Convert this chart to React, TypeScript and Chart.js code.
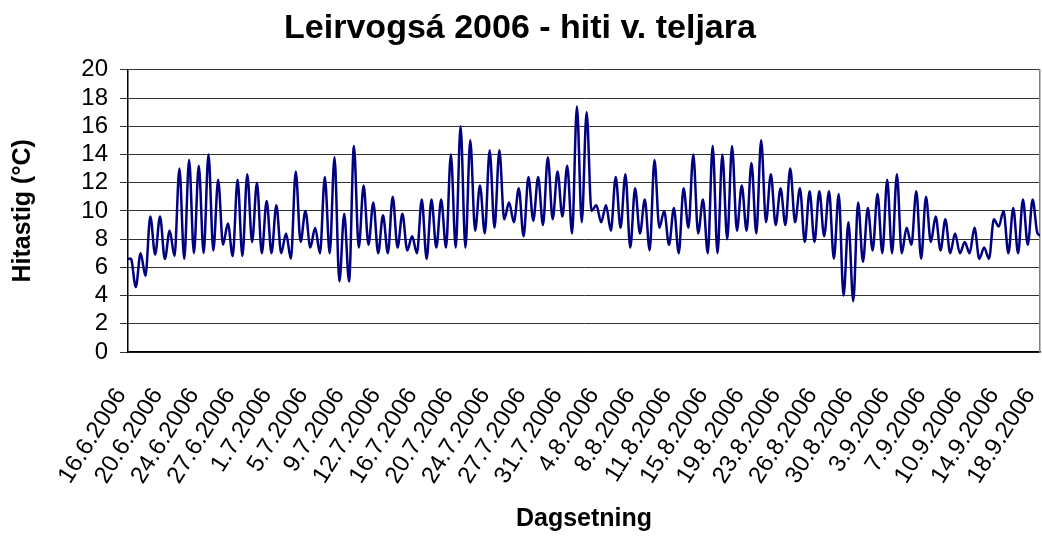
import React, { useEffect, useRef } from 'react';
import { Chart, registerables } from 'chart.js';

Chart.register(...registerables);

// X-axis tick labels (one every 90 hours from the first sample)
const tickLabels = [
  '16.6.2006', '20.6.2006', '24.6.2006', '27.6.2006', '1.7.2006', '5.7.2006',
  '9.7.2006', '12.7.2006', '16.7.2006', '20.7.2006', '24.7.2006', '27.7.2006',
  '31.7.2006', '4.8.2006', '8.8.2006', '11.8.2006', '15.8.2006', '19.8.2006',
  '23.8.2006', '26.8.2006', '30.8.2006', '3.9.2006', '7.9.2006', '10.9.2006',
  '14.9.2006', '18.9.2006',
];

// Water temperature (°C), one reading every 12 hours (afternoon max / night min)
const temperatures = [
  6.6,
  6.6, 4.6, 7.0, 5.4, 9.6, 6.9, 9.6, 6.6, 8.6, 6.8,
  13.0, 6.6, 13.6, 7.0, 13.2, 7.0, 14.0, 7.2, 12.2, 7.6,
  9.1, 6.8, 12.2, 6.8, 12.6, 7.8, 12.0, 7.0, 10.7, 7.0,
  10.4, 7.0, 8.4, 6.6, 12.8, 7.8, 10.0, 7.4, 8.8, 7.0,
  12.4, 7.0, 13.8, 5.0, 9.8, 5.0, 14.6, 7.4, 11.8, 7.6,
  10.6, 7.0, 9.7, 7.0, 11.0, 7.4, 9.8, 7.2, 8.2, 7.0,
  10.8, 6.6, 10.8, 7.4, 10.8, 7.4, 14.0, 7.4, 16.0, 7.4,
  15.0, 8.6, 11.8, 8.4, 14.3, 8.8, 14.3, 9.4, 10.6, 9.2,
  11.6, 8.2, 12.4, 9.3, 12.4, 9.0, 13.8, 9.4, 12.8, 9.6,
  13.2, 8.4, 17.4, 9.2, 17.0, 10.0, 10.4, 9.2, 10.4, 8.6,
  12.4, 8.8, 12.6, 7.4, 11.6, 8.4, 10.8, 7.2, 13.6, 8.8,
  10.0, 7.6, 10.2, 7.0, 11.6, 8.8, 14.0, 8.4, 10.8, 7.0,
  14.6, 7.0, 14.0, 8.0, 14.6, 8.6, 11.8, 8.6, 13.4, 8.4,
  15.0, 9.2, 12.6, 9.0, 11.6, 9.0, 13.0, 9.2, 11.6, 7.8,
  11.4, 7.8, 11.4, 8.2, 11.4, 6.6, 11.2, 4.0, 9.2, 3.6,
  10.6, 6.4, 10.2, 7.2, 11.2, 7.0, 12.2, 7.0, 12.6, 7.0,
  8.8, 7.6, 11.4, 6.6, 11.0, 7.8, 9.6, 7.2, 9.4, 7.0,
  8.4, 7.0, 7.8, 7.0, 8.8, 6.6, 7.4, 6.6, 9.4, 8.9,
  10.0, 7.0, 10.2, 7.0, 10.8, 7.6, 10.8, 8.4,
  8.2,
];

const firstSampleDay = -0.2; // days relative to first label
const sampleStepDays = 0.5;
const labelStepDays = 3.75;
const lastDay = 94.06;

const FONT = "'Liberation Sans', Arial, Helvetica, sans-serif";

export default function App() {
  const ref = useRef<HTMLCanvasElement>(null);

  useEffect(() => {
    const chart = new Chart(ref.current!, {
      type: 'line',
      data: {
        datasets: [
          {
            data: temperatures.map((v, i) => ({ x: firstSampleDay + i * sampleStepDays, y: v })),
            borderColor: '#000080',
            backgroundColor: '#000080',
            borderWidth: 2.5,
            pointRadius: 0,
            cubicInterpolationMode: 'monotone',
            fill: false,
          },
        ],
      },
      options: {
        animation: false,
        responsive: true,
        maintainAspectRatio: false,
        layout: { padding: { left: 0, right: 2, top: 0, bottom: 0 } },
        plugins: {
          legend: { display: false },
          tooltip: { enabled: false },
          title: {
            display: true,
            text: 'Leirvogsá 2006 - hiti v. teljara',
            color: '#000',
            font: { family: FONT, size: 34, weight: 'bold' },
            padding: { top: 8, bottom: 21 },
          },
        },
        scales: {
          x: {
            type: 'linear',
            min: 0,
            max: lastDay,
            afterBuildTicks: (s: any) => {
              s.ticks = tickLabels.map((_, j) => ({ value: j * labelStepDays }));
            },
            afterFit: (s: any) => {
              s.height = 184;
              s.paddingLeft = 0;
              s.paddingRight = 0;
            },
            grid: { display: false, drawTicks: false },
            border: { display: true, color: '#000', width: 1.5 },
            ticks: {
              autoSkip: false,
              minRotation: 58,
              maxRotation: 58,
              padding: 31,
              labelOffset: -7,
              color: '#000',
              font: { family: FONT, size: 24 },
              callback: (_v: any, i: number) => tickLabels[i],
            },
            title: {
              display: true,
              text: 'Dagsetning',
              color: '#000',
              font: { family: FONT, size: 25, weight: 'bold' },
              padding: { top: 0, bottom: 2 },
            },
          },
          y: {
            min: 0,
            max: 20,
            afterFit: (s: any) => {
              s.width = 128;
              s.paddingTop = 0;
              s.paddingBottom = 0;
            },
            ticks: {
              stepSize: 2,
              autoSkip: false,
              color: '#000',
              font: { family: FONT, size: 24 },
              padding: 12,
            },
            grid: { color: '#333', tickLength: 8, drawTicks: true, lineWidth: 1 },
            border: { color: '#000', width: 1.5 },
            title: {
              display: true,
              text: 'Hitastig (°C)',
              color: '#000',
              font: { family: FONT, size: 25, weight: 'bold' },
              padding: { top: 8, bottom: 0 },
            },
          },
          y2: {
            position: 'right',
            min: 0,
            max: 20,
            afterFit: (s: any) => {
              s.width = 0;
              s.paddingTop = 0;
              s.paddingBottom = 0;
            },
            ticks: { display: false },
            grid: { display: false, drawTicks: false },
            border: { display: true, color: '#808080', width: 1.5 },
          },
        },
      } as any,
    });
    return () => chart.destroy();
  }, []);

  return (
    <div style={{ position: 'absolute', left: 0, top: 0, width: 1042, height: 536 }}>
      <canvas ref={ref} />
    </div>
  );
}
